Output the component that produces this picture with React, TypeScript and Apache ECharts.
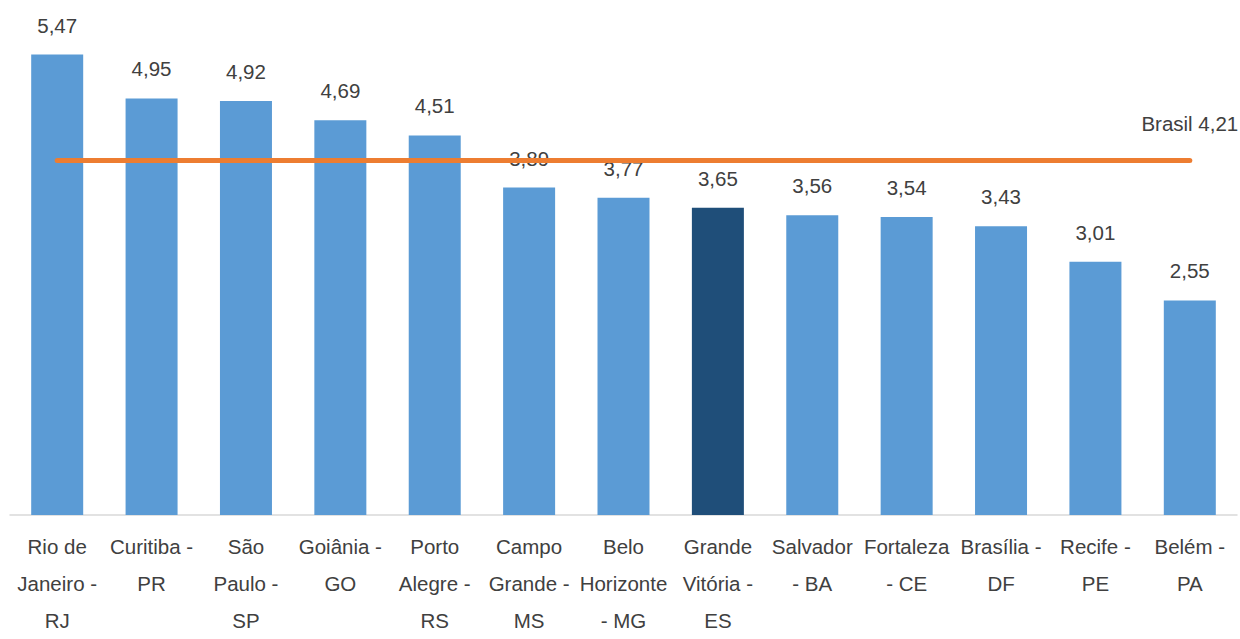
import React, { useEffect, useRef } from "react";
import * as echarts from "echarts";

const categories = [
  "Rio de\nJaneiro -\nRJ",
  "Curitiba -\nPR",
  "São\nPaulo -\nSP",
  "Goiânia -\nGO",
  "Porto\nAlegre -\nRS",
  "Campo\nGrande -\nMS",
  "Belo\nHorizonte\n- MG",
  "Grande\nVitória -\nES",
  "Salvador\n- BA",
  "Fortaleza\n- CE",
  "Brasília -\nDF",
  "Recife -\nPE",
  "Belém -\nPA",
];
const values = [5.47, 4.95, 4.92, 4.69, 4.51, 3.89, 3.77, 3.65, 3.56, 3.54, 3.43, 3.01, 2.55];
const highlighted = "Grande\nVitória -\nES";
const brasilValue = 4.21;
const brasilLabel = "Brasil";

const fmt = (v: number) => v.toFixed(2).replace(".", ",");

export default function App() {
  const ref = useRef<HTMLDivElement>(null);
  useEffect(() => {
    if (!ref.current) return;
    const chart = echarts.init(ref.current, undefined, {
      renderer: "svg",
      width: 1240,
      height: 639,
    });
    const font = "'Liberation Sans', Arial, sans-serif";
    chart.setOption({
      animation: false,
      backgroundColor: "#ffffff",
      grid: { left: 10, right: 3, top: 10, height: 514, containLabel: false },
      xAxis: {
        type: "category",
        data: categories,
        axisLine: { show: true, lineStyle: { color: "#d9d9d9", width: 1.5 } },
        axisTick: { show: false },
        axisLabel: {
          interval: 0,
          color: "#404040",
          fontFamily: font,
          fontSize: 20.5,
          lineHeight: 37,
          margin: 13,
        },
      },
      yAxis: {
        type: "value",
        min: 0,
        max: 6,
        show: false,
        splitLine: { show: false },
      },
      series: [
        {
          type: "bar",
          barWidth: 52,
          data: values.map((v, i) => ({
            value: v,
            itemStyle: { color: categories[i] === highlighted ? "#1f4e79" : "#5b9bd5" },
          })),
          label: {
            show: true,
            position: "top",
            distance: 19,
            color: "#404040",
            fontFamily: font,
            fontSize: 20.5,
            formatter: (p: any) => fmt(p.value),
          },
          z: 2,
        },
        {
          type: "line",
          data: [],
          z: 3,
          markLine: {
            symbol: "none",
            silent: true,
            lineStyle: { color: "#ed7d31", width: 5, type: "solid", cap: "round" },
            label: { show: false },
            data: [
              [
                { coord: [categories[0], brasilValue] },
                { coord: [categories[categories.length - 1], brasilValue] },
              ],
            ],
          },
          markPoint: {
            symbol: "circle",
            symbolSize: 0,
            silent: true,
            label: {
              show: true,
              position: "top",
              distance: 27,
              color: "#404040",
              fontFamily: font,
              fontSize: 20.5,
              formatter: `${brasilLabel} ${fmt(brasilValue)}`,
            },
            data: [{ coord: [categories[categories.length - 1], brasilValue] }],
          },
        },
      ],
    });
    return () => chart.dispose();
  }, []);
  return (
    <div
      ref={ref}
      style={{ position: "absolute", left: 0, top: 0, width: 1240, height: 639 }}
    />
  );
}
